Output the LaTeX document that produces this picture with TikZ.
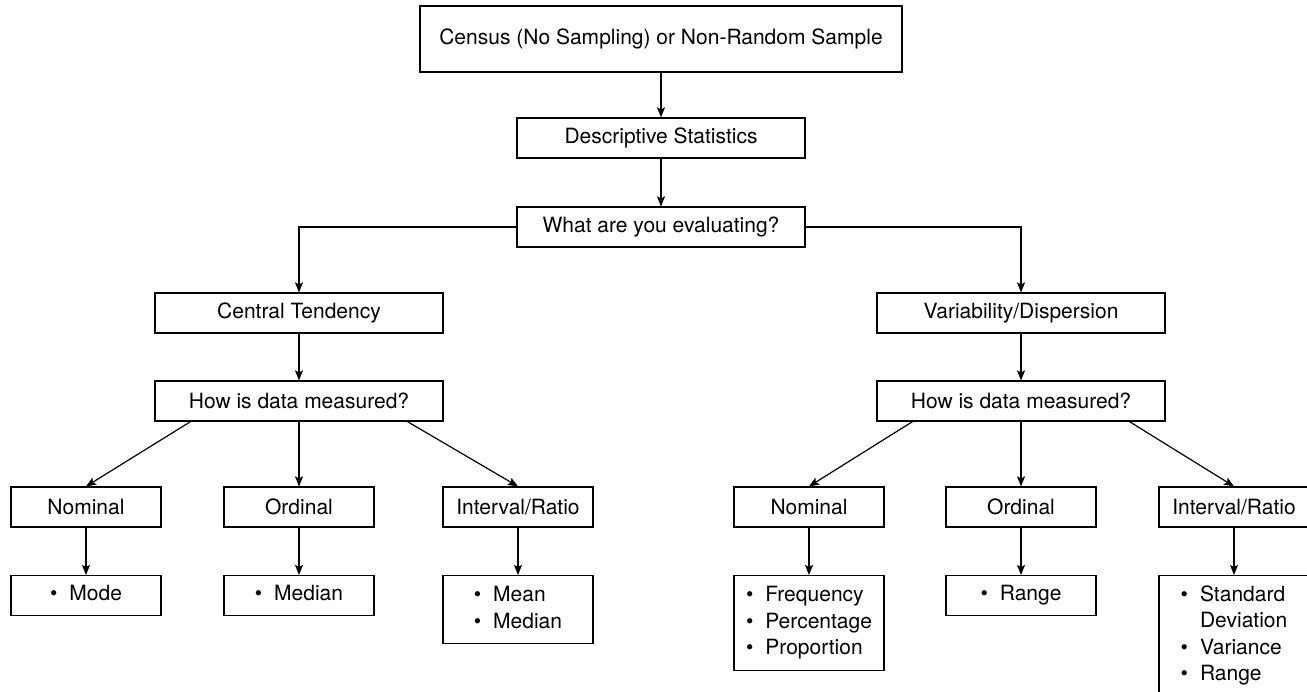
\documentclass[tikz,border=0pt]{standalone}
\usepackage{fontspec}
\setmainfont{TeX Gyre Heros}
\usetikzlibrary{arrows.meta,calc}
\newcommand{\blist}[1]{\begin{tabular}{@{}l@{\hspace{12pt}}l@{}}#1\end{tabular}}
\begin{document}
\begin{tikzpicture}[x=1pt,y=-1pt,
  box/.style={draw, line width=1.2pt, minimum width=288pt, minimum height=40pt, inner sep=0pt,
              font=\fontsize{21}{26.5}\selectfont},
  small/.style={box, minimum width=150pt},
  arr/.style={line width=1.2pt, -{Stealth[length=10pt,width=8pt,inset=2pt]}}]
\clip (0,0) rectangle (1307,691);
\fill[white] (0,0) rectangle (1307,691);

\node[box, minimum width=482pt, minimum height=66pt] (top) at (661,39) {Census (No Sampling) or Non-Random Sample};
\node[box] (desc) at (661,138) {Descriptive Statistics};
\node[box] (what) at (661,227) {What are you evaluating?};
\node[box] (ct) at (299,313) {Central Tendency};
\node[box] (vd) at (1021,313) {Variability/Dispersion};
\node[box] (how1) at (299,401) {How is data measured?};
\node[box] (how2) at (1021,401) {How is data measured?};

\node[small] (n1) at (86,507) {Nominal};
\node[small] (o1) at (299,507) {Ordinal};
\node[small] (i1) at (518,507) {Interval/Ratio};
\node[small] (n2) at (809,507) {Nominal};
\node[small] (o2) at (1021,507) {Ordinal};
\node[small] (i2) at (1234,507) {Interval/Ratio};

\node[small, anchor=north] (mode) at (86,575) {\blist{•&Mode}};
\node[small, anchor=north] (med) at (299,575) {\blist{•&Median}};
\node[small, anchor=north, minimum height=68pt] (mm) at (518,575) {\blist{•&Mean\\•&Median}};
\node[small, anchor=north, minimum height=95pt] (freq) at (809,575) {\blist{•&Frequency\\•&Percentage\\•&Proportion}};
\node[small, anchor=north] (rng) at (1021,575) {\blist{•&Range}};
\node[small, anchor=north, minimum height=120pt] (std) at (1234,575) {\blist{•&Standard\\&Deviation\\•&Variance\\•&Range}};

\draw[arr] (top) -- (desc);
\draw[arr] (desc) -- (what);
\draw[arr] (what.west) -| (ct.north);
\draw[arr] (what.east) -| (vd.north);
\draw[arr] (ct) -- (how1);
\draw[arr] (vd) -- (how2);

\draw[arr] ($(how1.south)!0.75!(how1.south west)$) -- (n1.north);
\draw[arr] (how1) -- (o1);
\draw[arr] ($(how1.south)!0.75!(how1.south east)$) -- (i1.north);
\draw[arr] ($(how2.south)!0.75!(how2.south west)$) -- (n2.north);
\draw[arr] (how2) -- (o2);
\draw[arr] ($(how2.south)!0.75!(how2.south east)$) -- (i2.north);

\draw[arr] (n1) -- (mode);
\draw[arr] (o1) -- (med);
\draw[arr] (i1) -- (mm);
\draw[arr] (n2) -- (freq);
\draw[arr] (o2) -- (rng);
\draw[arr] (i2) -- (std);
\end{tikzpicture}
\end{document}
